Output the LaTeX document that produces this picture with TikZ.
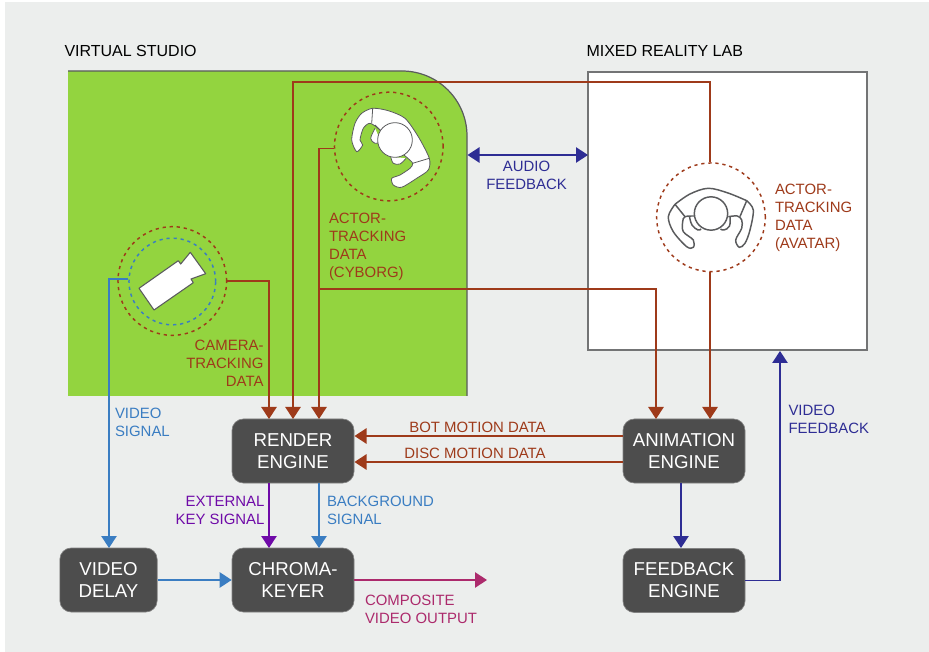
\documentclass[tikz,border=0pt]{standalone}
\usepackage{fontspec}
\setmainfont{Liberation Sans}
\usetikzlibrary{arrows.meta}
\definecolor{panelgrey}{HTML}{ECEEED}
\definecolor{studiogreen}{HTML}{93D43F}
\definecolor{boxgrey}{HTML}{4D4D4D}
\definecolor{edgegrey}{HTML}{5A5B5D}
\definecolor{trackred}{HTML}{9E3A1A}
\definecolor{videoblue}{HTML}{3A7DC2}
\definecolor{feedblue}{HTML}{2E2D94}
\definecolor{keypurple}{HTML}{6F0AA8}
\definecolor{outmagenta}{HTML}{AC2A6C}
\tikzset{every picture/.style={line width=0.75pt},
  enginebox/.style={fill=boxgrey,draw=boxgrey!70!white,line width=0.5pt,rounded corners=8.5pt,inner sep=0pt,align=center,text=white,font=\fontsize{14}{16.5}\selectfont},
  zonelabel/.style={inner sep=0pt,font=\fontsize{12}{14}\selectfont},
  flowlabel/.style={inner sep=0pt,font=\fontsize{11.2}{13.4}\selectfont},
  trackring/.style={circle,draw=trackred,dash pattern=on 2.4pt off 2.9pt,line width=1.1pt,inner sep=0pt,minimum size=81.5pt},
  wire/.style={line width=1.1pt,-{Triangle[length=9pt,width=11.5pt]}},
  plainwire/.style={line width=1.1pt},
  figureline/.style={draw=edgegrey,line width=1.1pt}}

\begin{document}
\begin{tikzpicture}[x=0.75pt,y=0.75pt,yscale=-1,xscale=1]
\useasboundingbox (0,0) rectangle (929,652);

%Shape: Panel
\fill[panelgrey] (5,2) rectangle (929,652);
%Shape: Virtual studio floor
\fill[studiogreen] (68,71) -- (402,71) arc[start angle=-90,end angle=0,radius=65] -- (467,396) -- (68,396) -- cycle;
\draw[edgegrey,line width=0.9pt] (68,71) -- (402,71) arc[start angle=-90,end angle=0,radius=65] -- (467,396);
%Shape: Mixed reality lab
\node (lab) [draw=edgegrey!85!white,fill=white,line width=1.4pt,inner sep=0pt,minimum width=209pt,minimum height=208.5pt] at (727.7,210.7) {};

%Shape: Tracking rings
\node (camera) [trackring] at (172.3,281) {};
\node (lens) [trackring,draw=videoblue,minimum size=65pt] at (172.3,281.5) {};
\node (cyborg) [trackring] at (388.8,146.5) {};
\node (avatar) [trackring] at (711,217.3) {};

%Shape: Camera
\draw[figureline,line width=0.8pt,fill=white,line join=round] (139,288.3) -- (178.3,260.7) -- (180.7,264) -- (190.3,252.3) -- (205.7,273.7) -- (191,279) -- (193.3,282.7) -- (154,310) -- cycle;

%Shape: Cyborg figure
\draw[figureline,fill=white,line width=0.6pt] plot[smooth,tension=0.55] coordinates {(375,128.3) (370.7,138.3) (375,143.3) (381,141.7)};
\draw[figureline,fill=white,line width=0.6pt] plot[smooth,tension=0.55] coordinates {(390.7,156.7) (393.3,163.3) (400,164) (406,158.3)};
\draw[figureline,fill=white,line width=0.6pt] plot[smooth cycle,tension=0.45] coordinates {(356.7,151.7) (351.7,140) (355,123.3) (361.7,113.3) (372.7,108.3) (388.3,110.7) (405,118.3) (418.3,136.7) (429.3,158.3) (428.3,170) (416.7,178.3) (401.7,187.3) (393.3,185) (391.7,178.3) (400,175) (410,168.3) (412.7,163.3) (406,156.7) (392,145) (380,130) (370,123.3) (363.3,128.3) (360,140) (362.7,145)};
\draw[figureline,line width=0.6pt] (372.7,108.3) -- (371.7,123.3) (412.7,163.3) -- (429.3,158.3) (375,125) -- (381,131);
\node (cyborghead) [circle,draw=edgegrey,fill=white,line width=0.6pt,inner sep=0pt,minimum size=26pt] at (395,140) {};

%Shape: Avatar figure
\draw[figureline] plot[smooth,tension=0.55] coordinates {(675,204.3) (690,194) (708.3,188.3) (728,193) (746.7,200.7)};
\draw[figureline] plot[smooth,tension=0.55] coordinates {(746.7,200.7) (753.3,210) (750,230) (745,243.3) (739.3,247.3) (735.7,240) (741.7,228.3) (741.7,220) (737.3,216) (728.3,216.7)};
\draw[figureline] plot[smooth,tension=0.55] coordinates {(675,204.3) (668.3,216.7) (673.3,231.7) (686.7,246.7) (693.3,247.3) (693.3,240) (683.3,231.7) (682.7,221.7) (685,216.7) (695,216)};
\draw[figureline] (675,204.3) -- (685,216.7) (746.7,200.7) -- (740,216.5);
\draw[figureline] plot[smooth,tension=0.7] coordinates {(689.5,216.5) (692,225) (698,230) (701,229)};
\draw[figureline] plot[smooth,tension=0.7] coordinates {(730,216.5) (729.5,226) (724,230) (720.5,229)};
\node (avatarhead) [circle,draw=edgegrey,fill=white,line width=1.1pt,inner sep=0pt,minimum size=25pt] at (711,213.5) {};

%Shape: Engines
\node (render) [enginebox,minimum width=91.5pt,minimum height=48pt] at (293,451) {RENDER\\ENGINE};
\node (chroma) [enginebox,minimum width=91.5pt,minimum height=48pt] at (293,580) {CHROMA-\\KEYER};
\node (delay) [enginebox,minimum width=73pt,minimum height=48pt] at (108.5,580) {VIDEO\\DELAY};
\node (animation) [enginebox,minimum width=91.5pt,minimum height=48pt] at (684,451) {ANIMATION\\ENGINE};
\node (feedback) [enginebox,minimum width=91.5pt,minimum height=48pt] at (684,580.5) {FEEDBACK\\ENGINE};

%Named ends of the connectors
\coordinate (renderA) at (269,419);
\coordinate (renderB) at (293,419);
\coordinate (renderC) at (319,419);
\coordinate (animA) at (656,419);
\coordinate (animB) at (avatar.269 |- animA);
\coordinate (topleft) at (293,82);
\coordinate (trackjoin) at (319,289);
\coordinate (delayin) at (109,548);
\coordinate (keyout) at (269,483);
\coordinate (keyin) at (269,548);
\coordinate (backout) at (319,483);
\coordinate (backin) at (319,548);
\coordinate (labin) at (780,351);
\coordinate (output) at (487,580);
\coordinate (botin) at (354.5,436);
\coordinate (botout) at (622.5,436);
\coordinate (discin) at (354.5,462);
\coordinate (discout) at (622.5,462);
\coordinate (feedout) at (681,483);
\coordinate (feedin) at (681,548);

%Straight Lines: tracking data
\draw[wire,trackred] (camera.east) -| (renderA);
\draw[wire,trackred] (avatar.91) |- (topleft) -- (renderB);
\draw[wire,trackred] (cyborg.182) -| (renderC);
\draw[wire,trackred] (trackjoin) -| (animA);
\draw[wire,trackred] (avatar.269) -- (animB);
\draw[wire,trackred] (botout) -- (botin);
\draw[wire,trackred] (discout) -- (discin);

%Straight Lines: video
\draw[wire,videoblue] (lens.177) -| (delayin);
\draw[wire,videoblue] (delay.east) -- (chroma.west);
\draw[wire,videoblue] (backout) -- (backin);
\draw[wire,keypurple] (keyout) -- (keyin);
\draw[wire,outmagenta] (chroma.east) -- (output);

%Straight Lines: feedback
\draw[wire,feedblue] (feedout) -- (feedin);
\draw[wire,feedblue] (feedback.east) -| (labin);
\coordinate (audioL) at (467.5,155);
\coordinate (audioR) at (588,155);
\draw[plainwire,feedblue,{Triangle[length=9pt,width=11.5pt]}-{Triangle[length=9pt,width=11.5pt]}] (audioL) -- (audioR);

% Text Node
\node (studiolabel) [zonelabel,anchor=west] at (64,51) {VIRTUAL STUDIO};
\node (lablabel) [zonelabel,anchor=west] at (586,51) {MIXED REALITY LAB};
\node (audiolabel) [flowlabel,text=feedblue,align=center] at (526.5,175.5) {AUDIO\\FEEDBACK};
\node (cyborglabel) [flowlabel,text=trackred,align=left,anchor=north west] at (328.5,212.5) {ACTOR-\\TRACKING\\DATA\\(CYBORG)};
\node (avatarlabel) [flowlabel,text=trackred,align=left,anchor=north west] at (774.5,183.5) {ACTOR-\\TRACKING\\DATA\\(AVATAR)};
\node (cameralabel) [flowlabel,text=trackred,align=right,anchor=north east] at (264,339.5) {CAMERA-\\TRACKING\\DATA};
\node (videolabel) [flowlabel,text=videoblue,align=left,anchor=north west] at (114.5,407.5) {VIDEO\\SIGNAL};
\node (botlabel) [flowlabel,text=trackred] at (477.5,427) {BOT MOTION DATA};
\node (disclabel) [flowlabel,text=trackred] at (475,453) {DISC MOTION DATA};
\node (keylabel) [flowlabel,text=keypurple,align=right,anchor=north east] at (265,495.5) {EXTERNAL\\KEY SIGNAL};
\node (backlabel) [flowlabel,text=videoblue,align=left,anchor=north west] at (326.5,495.5) {BACKGROUND\\SIGNAL};
\node (outputlabel) [flowlabel,text=outmagenta,align=left,anchor=north west] at (364.5,594.5) {COMPOSITE\\VIDEO OUTPUT};
\node (feedbacklabel) [flowlabel,text=feedblue,align=left,anchor=north west] at (788,405) {VIDEO\\FEEDBACK};

\end{tikzpicture}
\end{document}
